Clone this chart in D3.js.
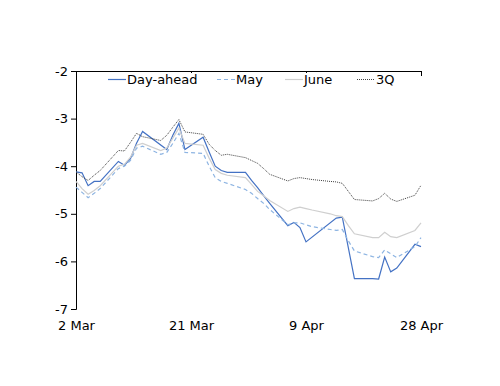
<!DOCTYPE html>
<html>
<head>
<meta charset="utf-8">
<script src="https://cdnjs.cloudflare.com/ajax/libs/d3/7.8.5/d3.min.js"></script>
<style>
  body { margin: 0; background: #fff; }
  svg text { font-family: "DejaVu Sans", sans-serif; font-size: 13px; fill: #000; }
</style>
</head>
<body>
<svg id="chart" width="500" height="386"></svg>
<script>
// business days, 2 Mar - 28 Apr
var dates = ["2015-03-02","2015-03-03","2015-03-04","2015-03-05","2015-03-06",
  "2015-03-09","2015-03-10","2015-03-11","2015-03-12","2015-03-13",
  "2015-03-16","2015-03-17","2015-03-18","2015-03-19","2015-03-20",
  "2015-03-23","2015-03-24","2015-03-25","2015-03-26","2015-03-27",
  "2015-03-30","2015-03-31","2015-04-01","2015-04-02","2015-04-03",
  "2015-04-06","2015-04-07","2015-04-08","2015-04-09","2015-04-10",
  "2015-04-13","2015-04-14","2015-04-15","2015-04-16","2015-04-17",
  "2015-04-20","2015-04-21","2015-04-22","2015-04-23","2015-04-24",
  "2015-04-27","2015-04-28"];

var dayAhead = [-4.12,-4.14,-4.41,-4.32,-4.32,-3.90,-3.98,-3.84,-3.52,-3.27,
  null,-3.65,-3.35,-3.10,-3.65,-3.39,-3.70,-4.00,-4.09,-4.13,
  -4.13,-4.30,-4.45,-4.62,-4.78,-5.25,-5.18,-5.29,-5.59,null,
  null,-5.09,-5.07,null,-6.36,-6.36,-6.37,-5.91,-6.22,-6.14,-5.64,-5.69];

var may = [-4.44,-4.55,-4.66,-4.57,-4.47,-4.05,-4.00,-3.88,-3.62,-3.58,
  -3.75,-3.71,-3.52,-3.31,-3.71,-3.73,-4.00,-4.24,-4.32,-4.36,
  -4.49,-4.57,-4.68,-4.78,-4.91,-5.23,-5.19,-5.19,-5.23,-5.27,
  -5.33,-5.35,-5.33,-5.57,-5.78,-5.90,-5.92,-5.76,-5.84,-5.92,-5.69,-5.50];

var june = [-4.32,-4.47,-4.59,-4.51,-4.41,-4.00,-3.96,-3.81,-3.56,-3.52,
  -3.67,-3.62,-3.41,-3.20,-3.52,-3.56,-3.83,-4.07,-4.15,-4.19,
  -4.24,-4.38,-4.53,-4.62,-4.72,-4.95,-4.89,-4.86,-4.89,-4.92,
  -5.00,-5.04,-5.06,-5.25,-5.42,-5.50,-5.50,-5.39,-5.48,-5.50,-5.35,-5.19];

var q3 = [-4.12,-4.22,-4.30,-4.19,-4.09,-3.67,-3.68,-3.50,-3.31,-3.38,
  -3.46,-3.35,-3.18,-3.02,-3.28,-3.33,-3.54,-3.67,-3.77,-3.75,
  -3.82,-3.88,-3.94,-4.05,-4.17,-4.31,-4.26,-4.24,-4.26,-4.28,
  -4.32,-4.33,-4.36,-4.53,-4.70,-4.73,-4.68,-4.57,-4.69,-4.74,-4.61,-4.40];

var xTicks = ["2015-03-02","2015-03-21","2015-04-09","2015-04-28"];
var xTickLabels = ["2 Mar","21 Mar","9 Apr","28 Apr"];
var yTicks = [-2,-3,-4,-5,-6,-7];
var yTickLabels = ["-2","-3","-4","-5","-6","-7"];

var seriesNames = ["Day-ahead","May","June","3Q"];

var parse = d3.timeParse("%Y-%m-%d");
var svg = d3.select("#chart");

var x = d3.scaleTime()
  .domain([parse(dates[0]), parse(dates[dates.length-1])])
  .range([76, 421]);
var y = d3.scaleLinear().domain([-7, -2]).range([309, 71]);

var styles = [
  {color: "#4472c4", width: 1.2, dash: null},
  {color: "#8db4e2", width: 1.2, dash: "4,3"},
  {color: "#cfcfcf", width: 1.2, dash: null},
  {color: "#404040", width: 1, dash: "1,1"}
];
var allSeries = [dayAhead, may, june, q3];

var line = d3.line()
  .x(function(d) { return x(d[0]); })
  .y(function(d) { return y(d[1]); });

// y axis
var yAxis = svg.append("g").attr("transform", "translate(76,0)")
  .call(d3.axisLeft(y).tickValues(yTicks).tickSize(5)
    .tickFormat(function(d, i) { return yTickLabels[i]; }));
yAxis.selectAll("text").attr("font-size", null);

// x axis line sits on top (at -2), labels at bottom
var xAxis = svg.append("g").attr("transform", "translate(0,71)")
  .call(d3.axisBottom(x).tickValues(xTicks.map(parse)).tickSize(5)
    .tickFormat(function(d, i) { return xTickLabels[i]; }));
xAxis.selectAll("text").attr("y", 250).attr("font-size", null);
svg.selectAll(".domain, .tick line").attr("stroke", "#000");
svg.selectAll("g").attr("font-family", null);

// lines
allSeries.forEach(function(vals, i) {
  var pts = [];
  vals.forEach(function(v, j) { if (v != null) pts.push([parse(dates[j]), v]); });
  svg.append("path")
    .datum(pts)
    .attr("fill", "none")
    .attr("stroke", styles[i].color)
    .attr("stroke-width", styles[i].width)
    .attr("stroke-dasharray", styles[i].dash)
    .attr("d", line);
});

// legend
var legendX = [108, 217, 285, 357];
svg.append("rect").attr("x", 104).attr("y", 73).attr("width", 296).attr("height", 14).attr("fill", "#fff");
seriesNames.forEach(function(name, i) {
  svg.append("line")
    .attr("x1", legendX[i]).attr("x2", legendX[i] + 18)
    .attr("y1", 79.5).attr("y2", 79.5)
    .attr("stroke", styles[i].color)
    .attr("stroke-width", styles[i].width)
    .attr("stroke-dasharray", styles[i].dash);
  svg.append("text")
    .attr("x", legendX[i] + 19).attr("y", 84)
    .text(name);
});
</script>
</body>
</html>
